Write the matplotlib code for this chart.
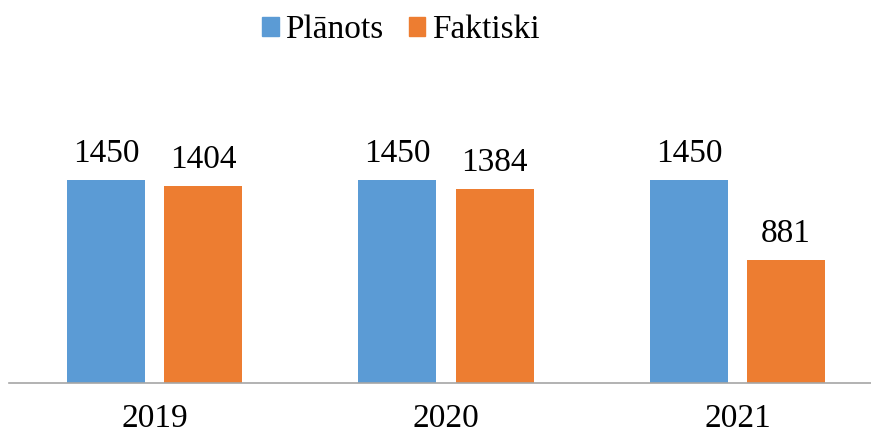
import numpy as np
import matplotlib
matplotlib.use('Agg')
import matplotlib.pyplot as plt
from matplotlib.patches import Patch

plt.rcParams['font.family'] = ['Liberation Serif', 'DejaVu Serif']

#data
years = ['2019', '2020', '2021']
planoti = [1450, 1450, 1450]
faktiski = [1404, 1384, 881]
series_names = ['Plānots', 'Faktiski']

blue = '#5b9bd5'
orange = '#ed7d31'

W, H = 871, 432
fig = plt.figure(figsize=(W/100, H/100), dpi=100)
#axes in pixel terms: baseline at y=383, category width ~291.5 px
ax = fig.add_axes([8.75/W, (H-383)/H, 874.5/W, 224/H])

x = np.arange(len(years))
bw = 0.2676
off = 0.1664
b1 = ax.bar(x - off, planoti, bw, color=blue)
b2 = ax.bar(x + off, faktiski, bw, color=orange)

for bars, vals in [(b1, planoti), (b2, faktiski)]:
    for r, v in zip(bars, vals):
        ax.annotate(str(v), (r.get_x() + r.get_width()/2, r.get_height()),
                    xytext=(0, 13), textcoords='offset points',
                    ha='center', va='baseline', fontsize=24, annotation_clip=False)

ax.set_xlim(-0.5, 2.5)
ax.set_ylim(0, 1600)
ax.set_xticks(x)
ax.set_xticklabels(years, fontsize=24)
ax.tick_params(axis='x', length=0, pad=15)
ax.set_yticks([])
for s in ['top', 'right', 'left']:
    ax.spines[s].set_visible(False)
ax.spines['bottom'].set_color('#a6a6a6')
ax.spines['bottom'].set_linewidth(1.2)

handles = [Patch(color=blue), Patch(color=orange)]
fig.legend(handles, series_names, loc='center', bbox_to_anchor=(401/W, 1 - 30/H),
           ncol=2, frameon=False, fontsize=24, handlelength=0.5, handleheight=0.5,
           handletextpad=0.2, columnspacing=0.75, borderpad=0, borderaxespad=0)

plt.savefig('out.png', dpi=100)
